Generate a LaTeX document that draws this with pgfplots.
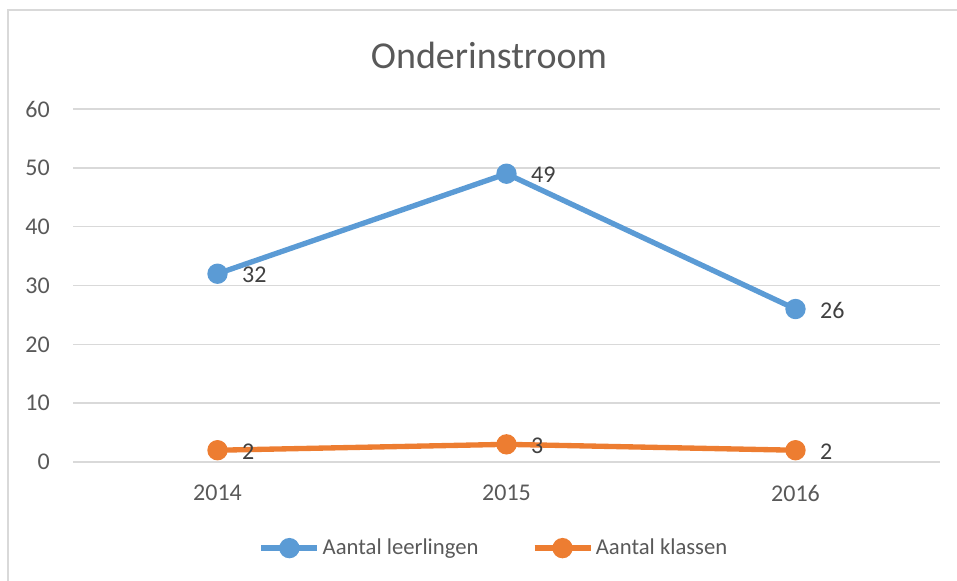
\documentclass[border=0pt]{standalone}
\usepackage{fontspec}
\setmainfont{Carlito}
\usepackage{pgfplots}
\pgfplotsset{compat=1.18}
\definecolor{cblue}{HTML}{5B9BD5}
\definecolor{corange}{HTML}{ED7D31}
\definecolor{tgray}{HTML}{595959}
\definecolor{dgray}{HTML}{404040}
\definecolor{ggray}{HTML}{D9D9D9}
\begin{document}
\begin{tikzpicture}[x=0.75pt,y=0.75pt]
\useasboundingbox (0,0) rectangle (957,581);
\draw[ggray,line width=1.2pt] (8,-5) -- (8,571) -- (965,571);
\node[tgray,font=\fontsize{28.5}{34}\selectfont] at (489,526) {Onderinstroom};
\begin{axis}[
  at={(73*0.75pt,119*0.75pt)}, anchor=south west,
  scale only axis, width=650.25pt, height=264.75pt,
  xmin=-0.5, xmax=2.5, ymin=0, ymax=60,
  xtick={0,1,2}, xticklabels={2014,2015,2016},
  ytick={0,10,...,60},
  ymajorgrids, grid style={ggray,line width=1pt},
  axis line style={draw=none},
  major tick length=0pt,
  /pgf/number format/assume math mode=true,
  tick label style={tgray,font=\fontsize{18}{21}\selectfont, inner sep=0pt},
  yticklabel style={anchor=east,xshift=-17.25pt},
  xticklabel style={anchor=north,yshift=-17pt},
  nodes near coords,
  every node near coord/.append style={anchor=west, xshift=16.5pt, yshift=-1pt, inner sep=0pt, dgray, font=\fontsize{18}{21}\selectfont},
  legend columns=2,
  legend style={draw=none, fill=none, at={(0.486,-0.244)}, anchor=center,
    font=\fontsize{17}{20}\selectfont, text=tgray,
    /tikz/every even column/.append style={column sep=38pt}},
  legend image code/.code={\draw[mark repeat=2,mark phase=2,#1] plot coordinates {(0pt,0pt) (21pt,0pt) (42pt,0pt)};},
]
\addplot[cblue, line width=4pt, mark=*, mark size=5.6pt, mark options={solid,draw=none}] coordinates {(0,32) (1,49) (2,26)};
\addlegendentry{Aantal leerlingen}
\addplot[corange, line width=4pt, mark=*, mark size=5.6pt, mark options={solid,draw=none}] coordinates {(0,2) (1,3) (2,2)};
\addlegendentry{Aantal klassen}
\end{axis}
\end{tikzpicture}
\end{document}
